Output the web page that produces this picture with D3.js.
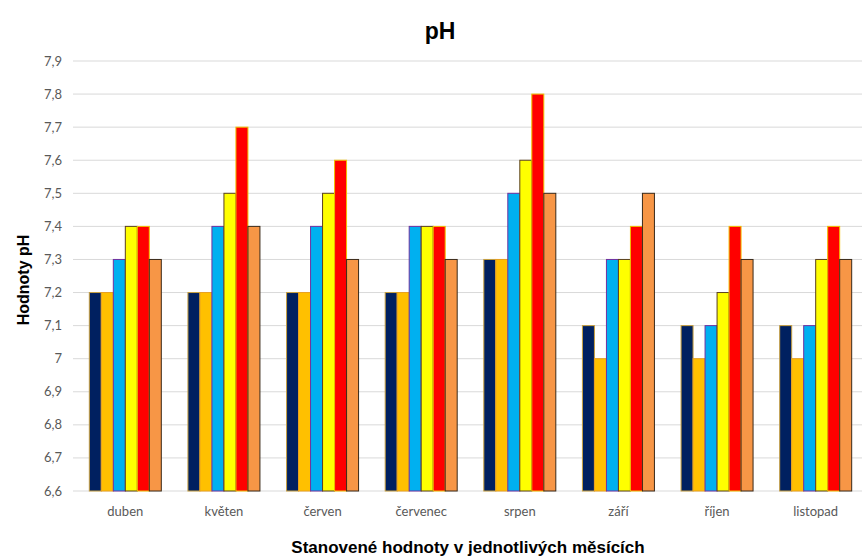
<!DOCTYPE html>
<html>
<head>
<meta charset="utf-8">
<script src="https://cdn.jsdelivr.net/npm/d3@7"></script>
<style>
  body { margin: 0; background: #fff; }
</style>
</head>
<body>
<div id="chart"></div>
<script>
// data
var months = ["duben", "květen", "červen", "červenec", "srpen", "září", "říjen", "listopad"];
var series = ["s1", "s2", "s3", "s4", "s5", "s6"];
var s1 = [7.2, 7.2, 7.2, 7.2, 7.3, 7.1, 7.1, 7.1];
var s2 = [7.2, 7.2, 7.2, 7.2, 7.3, 7.0, 7.0, 7.0];
var s3 = [7.3, 7.4, 7.4, 7.4, 7.5, 7.3, 7.1, 7.1];
var s4 = [7.4, 7.5, 7.5, 7.4, 7.6, 7.3, 7.2, 7.3];
var s5 = [7.4, 7.7, 7.6, 7.4, 7.8, 7.4, 7.4, 7.4];
var s6 = [7.3, 7.4, 7.3, 7.3, 7.5, 7.5, 7.3, 7.3];
var yTicks = [6.6, 6.7, 6.8, 6.9, 7.0, 7.1, 7.2, 7.3, 7.4, 7.5, 7.6, 7.7, 7.8, 7.9];

var values = [s1, s2, s3, s4, s5, s6];
var fills = ["#002060", "#FFC000", "#00B0F0", "#FFFF00", "#FF0000", "#F79646"];
var strokes = ["#C8A040", "#E8A020", "#7030A0", "#5A4020", "#F0C000", "#3A2A1A"];

var width = 862, height = 558;
var svg = d3.select("#chart").append("svg")
    .attr("width", width)
    .attr("height", height)
    .style("background-color", "white");

var x0 = d3.scaleBand().domain(months).range([76, 865]).paddingInner(0.27).paddingOuter(0.135);
var x1 = d3.scaleBand().domain(series).range([0, x0.bandwidth()]);
var y = d3.scaleLinear().domain([6.6, 7.9]).range([491, 61]);

var fmt = function(d) { return d3.format(".1f")(d).replace(".0", "").replace(".", ","); };

// gridlines
svg.append("g").selectAll("line")
  .data(yTicks)
  .enter().append("line")
    .attr("x1", 73).attr("x2", 862)
    .attr("y1", function(d) { return y(d); })
    .attr("y2", function(d) { return y(d); })
    .attr("stroke", "#d9d9d9")
    .attr("stroke-width", 1);

// y tick labels
svg.append("g").selectAll("text")
  .data(yTicks)
  .enter().append("text")
    .attr("x", 62)
    .attr("y", function(d) { return y(d); })
    .attr("dy", "0.35em")
    .attr("text-anchor", "end")
    .style("font-family", "Lato, 'Open Sans', sans-serif")
    .style("font-size", "13px")
    .style("fill", "#595959")
    .text(fmt);

// bars
var groups = svg.append("g").selectAll("g")
  .data(months)
  .enter().append("g")
    .attr("transform", function(d) { return "translate(" + x0(d) + ",0)"; });

groups.selectAll("rect")
  .data(function(m, i) { return series.map(function(s, j) { return {s: s, j: j, v: values[j][i]}; }); })
  .enter().append("rect")
    .attr("x", function(d) { return x1(d.s); })
    .attr("y", function(d) { return y(d.v); })
    .attr("width", x1.bandwidth())
    .attr("height", function(d) { return y(6.6) - y(d.v); })
    .attr("fill", function(d) { return fills[d.j]; })
    .attr("stroke", function(d) { return strokes[d.j]; })
    .attr("stroke-width", 1);

// x axis labels
svg.append("g").selectAll("text")
  .data(months)
  .enter().append("text")
    .attr("x", function(d) { return x0(d) + x0.bandwidth() / 2; })
    .attr("y", 516)
    .attr("text-anchor", "middle")
    .style("font-family", "Lato, 'Open Sans', sans-serif")
    .style("font-size", "13px")
    .style("fill", "#595959")
    .text(function(d) { return d; });

// title
svg.append("text")
  .attr("x", 440)
  .attr("y", 39)
  .attr("text-anchor", "middle")
  .style("font-family", "'Liberation Sans', Arial, sans-serif")
  .style("font-weight", "bold")
  .style("font-size", "23px")
  .style("fill", "#000")
  .text("pH");

// axis titles
svg.append("text")
  .attr("transform", "translate(29,280) rotate(-90)")
  .attr("text-anchor", "middle")
  .style("font-family", "'Liberation Sans', Arial, sans-serif")
  .style("font-weight", "bold")
  .style("font-size", "16px")
  .style("fill", "#000")
  .text("Hodnoty pH");

svg.append("text")
  .attr("x", 468)
  .attr("y", 553)
  .attr("text-anchor", "middle")
  .style("font-family", "'Liberation Sans', Arial, sans-serif")
  .style("font-weight", "bold")
  .style("font-size", "17px")
  .style("fill", "#000")
  .text("Stanovené hodnoty v jednotlivých měsících");
</script>
</body>
</html>
